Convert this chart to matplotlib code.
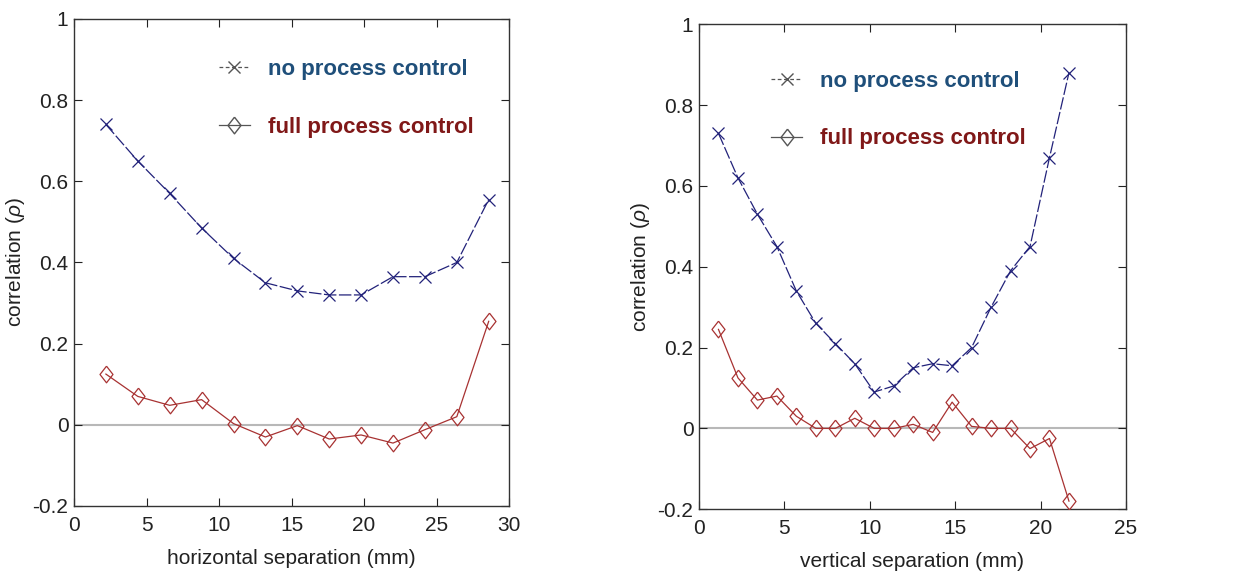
import numpy as np
import matplotlib
matplotlib.use('Agg')
import matplotlib.pyplot as plt
from matplotlib.lines import Line2D

plt.rcParams['font.family'] = ['Liberation Sans', 'DejaVu Sans']
plt.rcParams['mathtext.fontset'] = 'custom'
plt.rcParams['mathtext.it'] = 'Liberation Sans:italic'

# horizontal separation data
h_sep = [2.2, 4.4, 6.6, 8.8, 11.0, 13.2, 15.4, 17.6, 19.8, 22.0, 24.2, 26.4, 28.6]
h_none = [0.74, 0.65, 0.57, 0.485, 0.41, 0.35, 0.33, 0.32, 0.32, 0.365, 0.365, 0.40, 0.555]
h_full = [0.125, 0.07, 0.048, 0.062, 0.003, -0.03, -0.002, -0.035, -0.025, -0.045, -0.012, 0.02, 0.255]

# vertical separation data
v_sep = [1.14, 2.28, 3.42, 4.56, 5.7, 6.84, 7.98, 9.12, 10.26, 11.4, 12.54, 13.68,
         14.82, 15.96, 17.1, 18.24, 19.38, 20.52, 21.66]
v_none = [0.73, 0.62, 0.53, 0.45, 0.34, 0.26, 0.21, 0.16, 0.09, 0.105, 0.15, 0.16,
          0.155, 0.20, 0.30, 0.39, 0.45, 0.67, 0.88]
v_full = [0.245, 0.125, 0.07, 0.08, 0.03, 0.0, 0.0, 0.025, 0.0, 0.0, 0.01, -0.01,
          0.065, 0.005, 0.0, 0.0, -0.05, -0.025, -0.18]

y_ticks = [-0.2, 0, 0.2, 0.4, 0.6, 0.8, 1]
y_ticklabels = ['-0.2', '0', '0.2', '0.4', '0.6', '0.8', '1']
labels = ['no process control', 'full process control']

blue = '#22227a'
red = '#a83232'
diamond = [(0, 1), (0.78, 0), (0, -1), (-0.78, 0), (0, 1)]

fig = plt.figure(figsize=(12.5, 5.78), dpi=100)
ax1 = fig.add_axes([0.0592, 0.1246, 0.348, 0.8426])
ax2 = fig.add_axes([0.5592, 0.119, 0.3416, 0.839])


def draw(ax, x, none, full, xmax, xlabel, leg_xy):
    ax.axhline(0, color='#b8b8b8', lw=1.5, zorder=1)
    ax.plot(x, none, color=blue, lw=0.9, ls=(0, (10, 2)), marker='x', ms=9,
            mew=0.9, zorder=3)
    ax.plot(x, full, color=red, lw=0.9, marker=diamond, ms=12, mfc='none',
            mew=0.9, zorder=3)
    ax.set_xlim(0, xmax)
    ax.set_ylim(-0.2, 1)
    ax.set_xticks(np.arange(0, xmax + 1, 5))
    ax.set_yticks(y_ticks)
    ax.set_yticklabels(y_ticklabels)
    ax.tick_params(direction='in', length=6, width=0.8, top=True, right=True,
                   labelsize=15, colors='#222222', pad=4)
    ax.tick_params(axis='x', pad=7)
    for s in ax.spines.values():
        s.set_linewidth(1.0)
        s.set_color('#333333')
    ax.set_xlabel(xlabel, fontsize=15, color='#222222', labelpad=10)
    ax.set_ylabel('correlation ($\\mathit{\\rho}$)', fontsize=15, color='#222222')

    handles = [Line2D([], [], color='#555555', lw=0.9, ls=(0, (3, 2)), marker='x', ms=8),
               Line2D([], [], color='#555555', lw=0.9, marker=diamond, ms=12, mfc='none')]
    leg = ax.legend(handles, labels, loc='center left', bbox_to_anchor=leg_xy,
                    frameon=False, handlelength=1.4, handletextpad=0.8,
                    labelspacing=1.65, prop={'size': 16, 'weight': 'bold'},
                    labelcolor=['#1f4f7a', '#801818'])
    return leg


draw(ax1, h_sep, h_none, h_full, 30, 'horizontal separation (mm)', (0.287, 0.837))
draw(ax2, v_sep, v_none, v_full, 25, 'vertical separation (mm)', (0.122, 0.823))

fig.savefig('out.png', dpi=100)
